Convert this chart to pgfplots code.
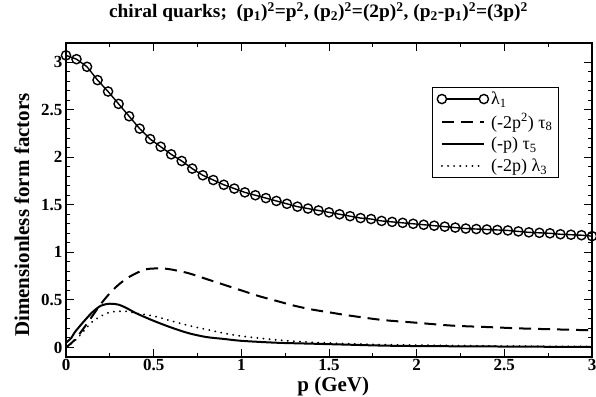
\documentclass[border=0pt]{standalone}
\usepackage{pgfplots}
\pgfplotsset{compat=1.18}
\usepackage{fontspec}
\setmainfont{Liberation Serif}

\begin{document}
\begin{tikzpicture}
\begin{axis}[
  scale only axis,
  width=526pt, height=314pt,
  at={(0pt,0pt)}, anchor=south west,
  xmin=0, xmax=3, ymin=-0.1, ymax=3.2,
  xtick={0,0.5,...,3}, ytick={0,0.5,...,3},
  minor x tick num=1, minor y tick num=4,
  major tick length=8pt, minor tick length=4pt,
  tick style={line width=1pt, black},
  axis line style={line width=1.4pt},
  /pgf/number format/assume math mode=true,
  ticklabel style={font=\bfseries\fontsize{17}{17}\selectfont},
  xticklabel style={yshift=1pt},
  xticklabels={0,0.5,1,1.5,2,2.5,3},
  yticklabels={0,0.5,1,1.5,2,2.5,3},
  xlabel={p (GeV)},
  ylabel={Dimensionless form factors},
  xlabel style={font=\bfseries\fontsize{21}{21}\selectfont, at={(axis description cs:0.508,0)}, anchor=center, yshift=-29.5pt},
  ylabel style={font=\bfseries\fontsize{21}{21}\selectfont, at={(axis description cs:-0.084,0.452)}, anchor=center},
  title={\scalebox{1.02}[1]{chiral quarks;\ \ (p\textsubscript{1})\textsuperscript{2}=p\textsuperscript{2}, (p\textsubscript{2})\textsuperscript{2}=(2p)\textsuperscript{2}, (p\textsubscript{2}-p\textsubscript{1})\textsuperscript{2}=(3p)\textsuperscript{2}}},
  title style={font=\bfseries\fontsize{19}{19}\selectfont, at={(axis description cs:0.48,1)}, anchor=center, yshift=25pt},
  legend style={at={(axis description cs:0.696,0.86)}, anchor=north west,
    draw=black, line width=1pt, font=\fontsize{18}{18}\selectfont,
    row sep=3.5pt, inner xsep=4pt, inner ysep=2.5pt},
  legend cell align=left,
]
\addplot[black, line width=1.4pt, mark=o, mark size=4.6pt,
  mark options={line width=1.4pt},
  legend image code/.code={
    \draw[line width=1.4pt] (0pt,0pt) -- (42pt,0pt);
    \draw[line width=1.4pt, fill=white] (0pt,0pt) circle (4.6pt);
    \draw[line width=1.4pt, fill=white] (42pt,0pt) circle (4.6pt);
  }] coordinates {
(0.00,3.07) (0.06,3.03) (0.12,2.95) (0.18,2.81) (0.24,2.69) (0.30,2.56)
(0.36,2.43) (0.42,2.30) (0.48,2.19) (0.54,2.11) (0.60,2.03) (0.66,1.96)
(0.72,1.88) (0.78,1.81) (0.84,1.76) (0.90,1.71) (0.96,1.67) (1.02,1.63)
(1.08,1.60) (1.14,1.57) (1.20,1.54) (1.26,1.51) (1.32,1.48) (1.38,1.46)
(1.44,1.44) (1.50,1.42) (1.56,1.40) (1.62,1.38) (1.68,1.36) (1.74,1.35)
(1.80,1.33) (1.86,1.32) (1.92,1.31) (1.98,1.30) (2.04,1.29) (2.10,1.28)
(2.16,1.27) (2.22,1.26) (2.28,1.25) (2.34,1.245) (2.40,1.24) (2.46,1.235)
(2.52,1.23) (2.58,1.22) (2.64,1.21) (2.70,1.205) (2.76,1.20) (2.82,1.19)
(2.88,1.185) (2.94,1.18) (3.00,1.17)
};
\addlegendentry{λ\textsubscript{1}}

\addplot[black, line width=2pt, smooth, dash pattern=on 12pt off 7pt,
  legend image code/.code={\draw[line width=2pt, dash pattern=on 12pt off 7pt] (0pt,0pt) -- (42pt,0pt);}] coordinates {
(0,0.0) (0.05,0.08) (0.1,0.2) (0.15,0.33) (0.2,0.46) (0.25,0.57) (0.3,0.66)
(0.35,0.73) (0.4,0.78) (0.45,0.82) (0.5,0.83) (0.55,0.83) (0.6,0.82)
(0.7,0.78) (0.8,0.72) (0.9,0.66) (1.0,0.60) (1.1,0.54) (1.2,0.49)
(1.3,0.44) (1.4,0.40) (1.5,0.37) (1.6,0.34) (1.8,0.29) (2.0,0.26)
(2.2,0.23) (2.4,0.215) (2.6,0.20) (2.8,0.19) (3.0,0.18)
};
\addlegendentry{(-2p\textsuperscript{2}) τ\textsubscript{8}}

\addplot[black, line width=2pt, smooth,
  legend image code/.code={\draw[line width=2pt] (0pt,0pt) -- (42pt,0pt);}] coordinates {
(0,0.05) (0.03,0.1) (0.05,0.16) (0.1,0.27) (0.15,0.37) (0.2,0.44)
(0.25,0.46) (0.3,0.45) (0.35,0.41) (0.4,0.36) (0.5,0.28) (0.6,0.21)
(0.7,0.15) (0.8,0.11) (0.9,0.09) (1.0,0.07) (1.2,0.05) (1.4,0.04)
(1.6,0.03) (1.8,0.02) (2.0,0.015) (2.5,0.01) (3.0,0.005)
};
\addlegendentry{(-p) τ\textsubscript{5}}

\addplot[black, line width=2pt, smooth, line cap=round, dash pattern=on 0.1pt off 6pt,
  legend image code/.code={\draw[line width=2pt, line cap=round, dash pattern=on 0.1pt off 6pt] (0pt,0pt) -- (42pt,0pt);}] coordinates {
(0,0.0) (0.05,0.07) (0.1,0.17) (0.15,0.27) (0.2,0.33) (0.25,0.37)
(0.3,0.38) (0.35,0.38) (0.4,0.36) (0.5,0.33) (0.6,0.28) (0.7,0.23)
(0.8,0.19) (0.9,0.15) (1.0,0.12) (1.2,0.08) (1.4,0.055) (1.6,0.04)
(1.8,0.03) (2.0,0.025) (2.5,0.015) (3.0,0.01)
};
\addlegendentry{(-2p) λ\textsubscript{3}}
\end{axis}
\pgfresetboundingbox
\path (-66pt,-39pt) rectangle (530pt,357pt);
\end{tikzpicture}
\end{document}
